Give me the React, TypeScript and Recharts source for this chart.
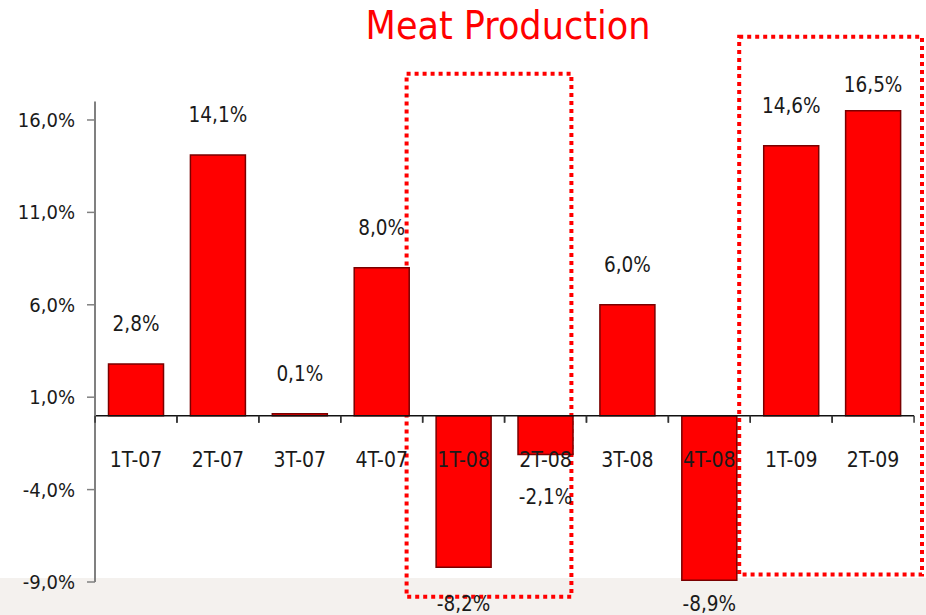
import { BarChart, Bar, XAxis, YAxis, ReferenceLine, ReferenceArea, LabelList } from "recharts";

const QUARTERS = ["1T-07", "2T-07", "3T-07", "4T-07", "1T-08", "2T-08", "3T-08", "4T-08", "1T-09", "2T-09"];
const GROWTH = [2.8, 14.1, 0.1, 8.0, -8.2, -2.1, 6.0, -8.9, 14.6, 16.5];
const Y_TICKS = [-9, -4, 1, 6, 11, 16];
const HIGHLIGHTS = [
  { from: "1T-08", to: "2T-08", top: 18.5, bottom: -9.8 },
  { from: "1T-09", to: "2T-09", top: 20.5, bottom: -8.6 },
];

const data = QUARTERS.map((q, i) => ({ q, v: GROWTH[i] }));

const W = 926;
const H = 615;
const MARGIN = { top: 101.5, right: 12, bottom: 33, left: 0 };
const AXIS_W = 95;
const PLOT_TOP = MARGIN.top;
const PLOT_BOTTOM = H - MARGIN.bottom;
const BAND = (W - MARGIN.left - MARGIN.right - AXIS_W) / QUARTERS.length;
const FONT = "'DejaVu Sans Condensed', 'DejaVu Sans', sans-serif";
const BOX_SHIFT = [
  [-16, -15],
  [-11, 8],
];

const fmt = (v: number) => `${v.toFixed(1).replace(".", ",")}%`;

const ValueLabel = (p: any) => {
  const { x, y, width, height, index } = p;
  const v = GROWTH[index];
  const top = Math.min(y, y + height);
  const bottom = Math.max(y, y + height);
  const cy = v >= 0 ? Math.max(top - 40, PLOT_TOP - 17) : Math.min(bottom + 42, PLOT_BOTTOM + 22);
  return (
    <text x={x + width / 2} y={cy} dy="0.36em" textAnchor="middle" fill="#1a1a1a" fontSize={20.5} fontFamily={FONT}>
      {fmt(v)}
    </text>
  );
};

const CatLabel = (p: any) => {
  const { x, y, width, height, index, value } = p;
  const v = GROWTH[index];
  const zero = v >= 0 ? Math.max(y, y + height) : Math.min(y, y + height);
  const cx = x + width / 2;
  return (
    <g>
      <line x1={cx - BAND / 2} x2={cx - BAND / 2} y1={zero} y2={zero + 7} stroke="#333" strokeWidth={1.5} />
      <line x1={cx + BAND / 2} x2={cx + BAND / 2} y1={zero} y2={zero + 7} stroke="#333" strokeWidth={1.5} />
      <text x={cx} y={zero + 44} dy="0.36em" textAnchor="middle" fill="#1a1a1a" fontSize={21} fontFamily={FONT}>
        {value}
      </text>
    </g>
  );
};

const boxShape = (shift: number[]) => (p: any) => (
  <rect
    x={p.x + shift[0]}
    y={p.y}
    width={p.width - shift[0] + shift[1]}
    height={p.height}
    fill="none"
    stroke="#ff0000"
    strokeWidth={4}
    strokeDasharray="4 4"
  />
);

export default function App() {
  return (
    <div
      style={{
        position: "absolute",
        left: 0,
        top: 0,
        width: W,
        height: H,
        background: "linear-gradient(to bottom, #ffffff 0px, #ffffff 578px, #f4f1ee 578px)",
        overflow: "hidden",
      }}
    >
      <svg width={W} height={H} style={{ position: "absolute", left: 0, top: 0 }}>
        <text x={508} y={39} textAnchor="middle" fill="#ff0000" fontSize={39} fontFamily={FONT}>
          Meat Production
        </text>
      </svg>
      <div style={{ position: "absolute", left: 0, top: 0 }}>
        <BarChart width={W} height={H} data={data} margin={MARGIN} barCategoryGap="16.5%">
          <XAxis dataKey="q" hide />
          <YAxis
            width={AXIS_W}
            domain={[-9, 17]}
            ticks={Y_TICKS}
            interval={0}
            tickFormatter={fmt}
            tickSize={8}
            tickMargin={12}
            axisLine={{ stroke: "#808080", strokeWidth: 2 }}
            tickLine={{ stroke: "#808080", strokeWidth: 1.5 }}
            tick={{ fill: "#1a1a1a", fontSize: 20, fontFamily: FONT }}
          />
          <Bar dataKey="v" fill="#ff0000" stroke="#7a0000" strokeWidth={1.5} isAnimationActive={false}>
            <LabelList dataKey="q" content={CatLabel} />
            <LabelList dataKey="v" content={ValueLabel} />
          </Bar>
          <ReferenceLine y={0} stroke="#111" strokeWidth={1.5} />
          {HIGHLIGHTS.map((h, i) => (
            <ReferenceArea
              key={h.from}
              x1={h.from}
              x2={h.to}
              y1={h.bottom}
              y2={h.top}
              ifOverflow="visible"
              shape={boxShape(BOX_SHIFT[i])}
            />
          ))}
        </BarChart>
      </div>
    </div>
  );
}
